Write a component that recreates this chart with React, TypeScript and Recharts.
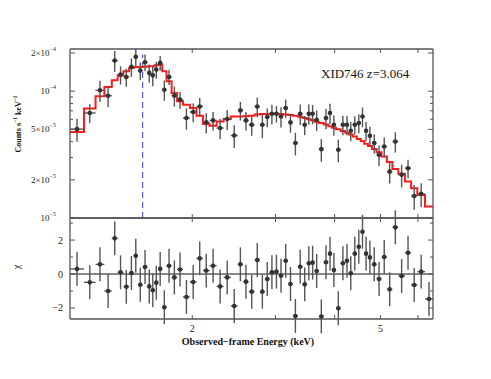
import React from 'react';
import { ComposedChart, Scatter, Line, XAxis, YAxis, ErrorBar, ReferenceLine } from 'recharts';

// Bin edges (keV)
const binEdges = [1.103,1.181,1.249,1.304,1.352,1.391,1.431,1.471,1.504,1.535,1.571,1.608,1.637,1.664,1.694,1.728,1.764,1.809,1.858,1.912,1.977,2.042,2.107,2.176,2.252,2.330,2.413,2.495,2.562,2.634,2.710,2.780,2.848,2.916,2.980,3.047,3.116,3.189,3.265,3.345,3.422,3.495,3.561,3.627,3.704,3.795,3.877,3.946,4.027,4.119,4.211,4.287,4.369,4.458,4.543,4.621,4.704,4.796,4.906,5.027,5.160,5.300,5.454,5.634,5.805,5.984,6.211,6.458];
// Counts s^-1 keV^-1, in units of 1e-5
const flux = [5.02,6.73,10.15,9.21,17.42,13.50,12.95,15.54,18.64,14.52,16.89,13.93,13.33,14.79,16.71,10.27,12.95,9.21,8.57,6.14,6.85,7.58,5.67,5.88,5.12,6.03,4.47,7.05,5.88,5.44,7.58,5.44,6.25,6.64,6.64,6.32,7.37,5.67,3.90,6.64,5.44,6.64,6.64,5.95,3.49,6.14,6.73,5.44,3.45,5.44,5.44,4.87,5.44,5.61,6.32,4.87,4.45,3.90,3.15,3.66,2.32,4.01,2.19,2.47,1.49,1.55,0.85];
const fluxErr = [1.03,1.15,1.93,1.73,3.28,2.22,2.10,2.60,3.00,2.27,2.55,2.30,2.40,2.24,2.25,1.88,1.77,1.66,1.30,1.17,1.15,1.26,1.03,0.98,0.94,1.09,0.91,1.18,0.98,0.98,1.35,1.17,1.05,1.19,0.99,1.16,1.21,0.96,0.79,1.22,0.94,1.20,1.15,1.09,0.71,1.12,1.23,0.99,0.70,0.95,0.95,0.85,0.89,0.96,1.12,0.84,0.78,0.68,0.58,0.65,0.45,0.73,0.45,0.41,0.33,0.33,0.26];
const model = [4.76,7.31,9.10,10.79,12.17,13.33,14.34,15.26,15.54,15.54,15.6,15.7,15.71,16.0,16.2,14.34,11.96,9.68,8.31,7.81,7.37,6.40,5.50,5.34,5.77,6.03,6.32,6.32,6.35,6.4,6.55,6.6,6.62,6.63,6.63,6.6,6.55,6.5,6.4,6.28,6.15,6.0,5.9,5.75,5.6,5.45,5.3,5.15,5.0,4.85,4.7,4.55,4.4,4.2,4.05,3.85,3.7,3.5,3.3,3.05,2.76,2.43,2.23,1.94,1.72,1.52,1.23];
const chi = [0.3,-0.49,0.57,-1.0,2.1,0.1,-0.75,0.06,1.08,-0.63,0.41,-0.73,-0.96,-0.51,0.3,-1.96,0.49,-0.2,0.27,-1.35,-0.47,0.92,0.2,0.49,-0.73,-0.2,-1.88,0.57,-0.45,-1.04,0.82,-1.04,-0.29,0.1,0.14,-0.1,0.78,-0.59,-2.47,0.43,-0.61,0.63,0.67,0.18,-2.5,0.69,1.2,0.24,-2.02,0.63,0.78,0.04,1.2,1.61,2.49,1.2,0.98,0.57,-0.29,1.0,-0.9,2.75,-0.12,1.25,-0.65,0.14,-1.47];
const chiErr = chi.map(() => 1);

const lineEnergy = 1.571;
const xDomain = [1.103, 6.458];
const yDomainTop = [1e-5, 2.15e-4];
const yDomainChi = [-2.65, 3.3];
const xTicks = [2, 3, 4, 5, 6];
const xLabels = [2, 5];
const yTicksTop = [1e-5, 2e-5, 3e-5, 4e-5, 5e-5, 6e-5, 7e-5, 8e-5, 9e-5, 1e-4, 2e-4];
const yLabelsTop = [1e-5, 2e-5, 5e-5, 1e-4, 2e-4];
const chiTicks = [-2, -1, 0, 1, 2, 3];
const chiLabels = [-2, 0, 2];

const SCALE = 1e-5;
const W = 491;
const H = 379;
const AXIS = '#555';
const FONT = '"Liberation Serif", "DejaVu Serif", serif';

const points = flux.map((f, i) => {
  const lo = binEdges[i];
  const hi = binEdges[i + 1];
  const e = Math.sqrt(lo * hi);
  return { e, v: f * SCALE, ey: fluxErr[i] * SCALE, ex: [e - lo, hi - e], c: chi[i], ce: chiErr[i] };
});
const topPoints = points.filter((p) => p.v >= yDomainTop[0]);
const steps = binEdges.map((e, i) => ({ e, v: model[Math.min(i, model.length - 1)] * SCALE }));

const Dot = (props: any) => <circle cx={props.cx} cy={props.cy} r={2.3} fill="#333" />;

type Side = 'left' | 'right' | 'top' | 'bottom';

function makeTick(side: Side, majors: number[], labelKind: 'flux' | 'chi' | 'x' | 'none') {
  return (props: any) => {
    const { x, y, payload } = props;
    const v = payload.value;
    const major = majors.includes(v);
    const len = side === 'top' || side === 'bottom' ? 4 : major ? 5 : 3;
    let x2 = x, y2 = y;
    if (side === 'left') x2 = x + len;
    if (side === 'right') x2 = x - len;
    if (side === 'top') y2 = y + len;
    if (side === 'bottom') y2 = y - len;
    let label: React.ReactNode = null;
    if (major && labelKind === 'flux') {
      const exp = Math.floor(Math.log10(v) + 1e-9);
      const m = Math.round(v / Math.pow(10, exp));
      label = (
        <text x={x - 14} y={y} textAnchor="end" dominantBaseline="central" fontSize={9} fontFamily={FONT} fill="#222">
          {m !== 1 ? `${m}×` : ''}10<tspan dy={-4} fontSize={6}>{`−${-exp}`}</tspan>
        </text>
      );
    } else if (major && labelKind === 'chi') {
      label = (
        <text x={x - 7} y={y} textAnchor="end" dominantBaseline="central" fontSize={10} fontFamily={FONT} fill="#222">
          {v < 0 ? `−${-v}` : `${v}`}
        </text>
      );
    } else if (major && labelKind === 'x') {
      label = (
        <text x={x} y={y + 9} textAnchor="middle" dominantBaseline="central" fontSize={10} fontFamily={FONT} fill="#222">
          {v}
        </text>
      );
    }
    return (
      <g>
        <line x1={x} y1={y} x2={x2} y2={y2} stroke={AXIS} strokeWidth={1} />
        {label}
      </g>
    );
  };
}

const axisLine = { stroke: AXIS, strokeWidth: 1.3 };

export default function App() {
  return (
    <div style={{ position: 'absolute', left: 0, top: 0, width: W, height: H, background: '#fff' }}>
      {/* Top panel */}
      <div style={{ position: 'absolute', left: 0, top: 0 }}>
        <ComposedChart width={W} height={H} margin={{ top: 48, right: 57, bottom: 160, left: 0 }}>
          <XAxis xAxisId={0} dataKey="e" type="number" scale="log" domain={xDomain} allowDataOverflow ticks={xTicks}
            height={1} tickSize={0} tickMargin={0} tickLine={false} axisLine={axisLine}
            tick={makeTick('bottom', xLabels, 'none')} interval={0} />
          <XAxis xAxisId="t" orientation="top" dataKey="e" type="number" scale="log" domain={xDomain} allowDataOverflow ticks={xTicks}
            height={1} tickSize={0} tickMargin={0} tickLine={false} axisLine={axisLine}
            tick={makeTick('top', xLabels, 'none')} interval={0} />
          <YAxis yAxisId={0} dataKey="v" type="number" scale="log" domain={yDomainTop} allowDataOverflow ticks={yTicksTop}
            width={70} tickSize={0} tickMargin={0} tickLine={false} axisLine={axisLine}
            tick={makeTick('left', yLabelsTop, 'flux')} interval={0} />
          <YAxis yAxisId="r" orientation="right" dataKey="v" type="number" scale="log" domain={yDomainTop} allowDataOverflow ticks={yTicksTop}
            width={1} tickSize={0} tickMargin={0} tickLine={false} axisLine={axisLine}
            tick={makeTick('right', yLabelsTop, 'none')} interval={0} />
          <ReferenceLine segment={[{ x: lineEnergy, y: 1e-5 }, { x: lineEnergy, y: 1.95e-4 }]} stroke="#2a3af0" strokeWidth={1} strokeDasharray="6 4" ifOverflow="visible" />
          <Line data={steps} dataKey="v" type="stepAfter" stroke="#ff1a1a" strokeWidth={2} dot={false} activeDot={false} isAnimationActive={false} />
          <Scatter data={topPoints} dataKey="v" shape={Dot} isAnimationActive={false}>
            <ErrorBar dataKey="ex" direction="x" width={0} stroke="#555" strokeWidth={1.4} />
            <ErrorBar dataKey="ey" direction="y" width={0} stroke="#555" strokeWidth={1.4} />
          </Scatter>
        </ComposedChart>
      </div>
      {/* Bottom panel */}
      <div style={{ position: 'absolute', left: 0, top: 0 }}>
        <ComposedChart width={W} height={H} margin={{ top: 217, right: 57, bottom: 59, left: 0 }}>
          <XAxis xAxisId={0} dataKey="e" type="number" scale="log" domain={xDomain} allowDataOverflow ticks={xTicks}
            height={1} tickSize={0} tickMargin={0} tickLine={false} axisLine={axisLine}
            tick={makeTick('bottom', xLabels, 'x')} interval={0} />
          <XAxis xAxisId="t" orientation="top" dataKey="e" type="number" scale="log" domain={xDomain} allowDataOverflow ticks={xTicks}
            height={1} tickSize={0} tickMargin={0} tickLine={false} axisLine={axisLine}
            tick={makeTick('top', xLabels, 'none')} interval={0} />
          <YAxis yAxisId={0} dataKey="c" type="number" domain={yDomainChi} allowDataOverflow ticks={chiTicks}
            width={70} tickSize={0} tickMargin={0} tickLine={false} axisLine={axisLine}
            tick={makeTick('left', chiLabels, 'chi')} interval={0} />
          <YAxis yAxisId="r" orientation="right" dataKey="c" type="number" domain={yDomainChi} allowDataOverflow ticks={chiTicks}
            width={1} tickSize={0} tickMargin={0} tickLine={false} axisLine={axisLine}
            tick={makeTick('right', chiLabels, 'none')} interval={0} />
          <ReferenceLine y={0} stroke="#111" strokeWidth={1} />
          <Scatter data={points} dataKey="c" shape={Dot} isAnimationActive={false}>
            <ErrorBar dataKey="ex" direction="x" width={0} stroke="#555" strokeWidth={1.4} />
            <ErrorBar dataKey="ce" direction="y" width={0} stroke="#555" strokeWidth={1.4} />
          </Scatter>
        </ComposedChart>
      </div>
      {/* Titles */}
      <div style={{ position: 'absolute', left: 17, top: 124, transform: 'translate(-50%, -50%) rotate(-90deg)', whiteSpace: 'nowrap', fontFamily: FONT, fontWeight: 'bold', fontSize: 8, lineHeight: '8px', color: '#111' }}>
        Counts s<sup style={{ fontSize: 5.5 }}>−1</sup> keV<sup style={{ fontSize: 5.5 }}>−1</sup>
      </div>
      <div style={{ position: 'absolute', left: 17, top: 267, transform: 'translate(-50%, -50%) rotate(-90deg)', whiteSpace: 'nowrap', fontFamily: FONT, fontSize: 10, lineHeight: '10px', color: '#111' }}>
        χ
      </div>
      <div style={{ position: 'absolute', left: 248, top: 342, transform: 'translate(-50%, -50%)', whiteSpace: 'nowrap', fontFamily: FONT, fontWeight: 'bold', fontSize: 10, lineHeight: '10px', color: '#111' }}>
        Observed−frame Energy (keV)
      </div>
      <div style={{ position: 'absolute', left: 321, top: 73, transform: 'translate(0, -50%)', whiteSpace: 'nowrap', fontFamily: FONT, fontSize: 13, lineHeight: '13px', color: '#111' }}>
        XID746 z=3.064
      </div>
    </div>
  );
}
